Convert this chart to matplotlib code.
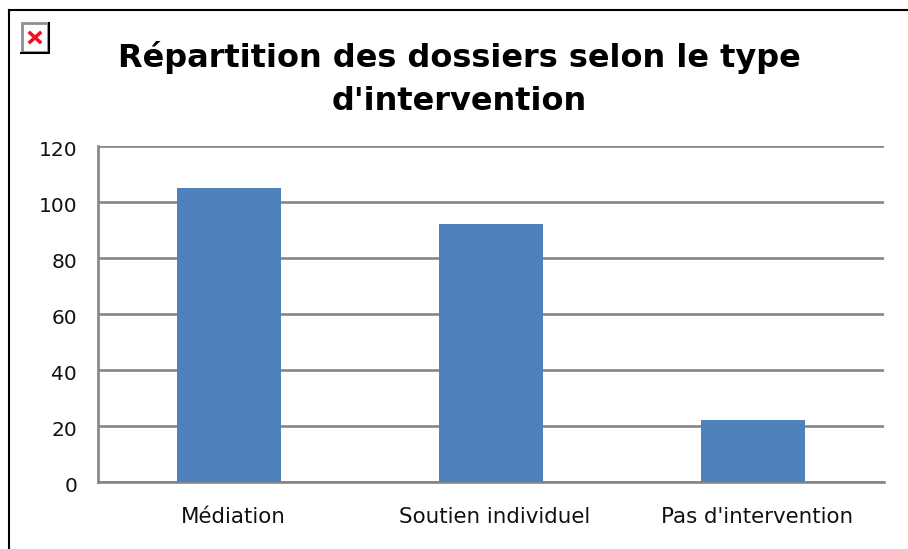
import matplotlib
matplotlib.use('Agg')
import matplotlib.pyplot as plt
from matplotlib.patches import Rectangle
from matplotlib.lines import Line2D
from matplotlib.transforms import ScaledTranslation

categories = ["Médiation", "Soutien individuel", "Pas d'intervention"]
values = [105, 92, 22]
y_ticks = [0, 20, 40, 60, 80, 100, 120]
title = "Répartition des dossiers selon le type\nd'intervention"

W, H = 908, 549
plt.rcParams['font.family'] = ['DejaVu Sans']

fig = plt.figure(figsize=(W / 100, H / 100), dpi=100)
ax = fig.add_axes([98 / W, 1 - 482 / H, (884 - 98) / W, (482 - 146) / H])

ax.bar(range(3), values, width=0.4, color='#4F81BD', zorder=3)
ax.set_xlim(-0.5, 2.5)
ax.set_ylim(0, 120)
ax.set_yticks(y_ticks)
ax.set_xticks(range(3))
ax.set_xticklabels(categories, fontsize=15.4, color='#111111')
ax.tick_params(axis='x', length=0, pad=18)
ax.tick_params(axis='y', length=0, pad=15, labelsize=14.5, labelcolor='#111111')
ax.grid(axis='y', color='#868686', linewidth=1.9, zorder=1)
ax.set_axisbelow(True)
for side in ['top', 'right']:
    ax.spines[side].set_visible(False)
for side in ['left', 'bottom']:
    ax.spines[side].set_color('#868686')
    ax.spines[side].set_linewidth(1.9)

# labels sit a little right of / below their ticks in the original
for lab in ax.get_xticklabels():
    lab.set_transform(lab.get_transform() + ScaledTranslation(4 / 100, 0, fig.dpi_scale_trans))
for lab in ax.get_yticklabels():
    lab.set_transform(lab.get_transform() + ScaledTranslation(0, -2 / 100, fig.dpi_scale_trans))

fig.text(459 / W, 1 - 79 / H, title, ha='center', va='center', fontsize=23,
         fontweight='bold', color='black', linespacing=1.5)

# outer frame of the chart picture
fig.add_artist(Line2D([8.5 / W, 8.5 / W], [0, 1 - 9.5 / H], color='black', linewidth=1.5))
fig.add_artist(Line2D([8.5 / W, 1], [1 - 9.5 / H, 1 - 9.5 / H], color='black', linewidth=1.5))

# broken image icon in the corner
fig.add_artist(Rectangle((22 / W, 1 - 52 / H), 26 / W, 29 / H, facecolor='white',
                         edgecolor='#909090', linewidth=2))
fig.add_artist(Line2D([21 / W, 49 / W, 49 / W], [1 - 53 / H, 1 - 53 / H, 1 - 23 / H],
                      color='black', linewidth=1.5))
fig.add_artist(Line2D([30 / W, 40 / W], [1 - 33 / H, 1 - 42 / H], color='#F01020', linewidth=2.5))
fig.add_artist(Line2D([30 / W, 40 / W], [1 - 42 / H, 1 - 33 / H], color='#F01020', linewidth=2.5))

fig.savefig('out.png', dpi=100)
